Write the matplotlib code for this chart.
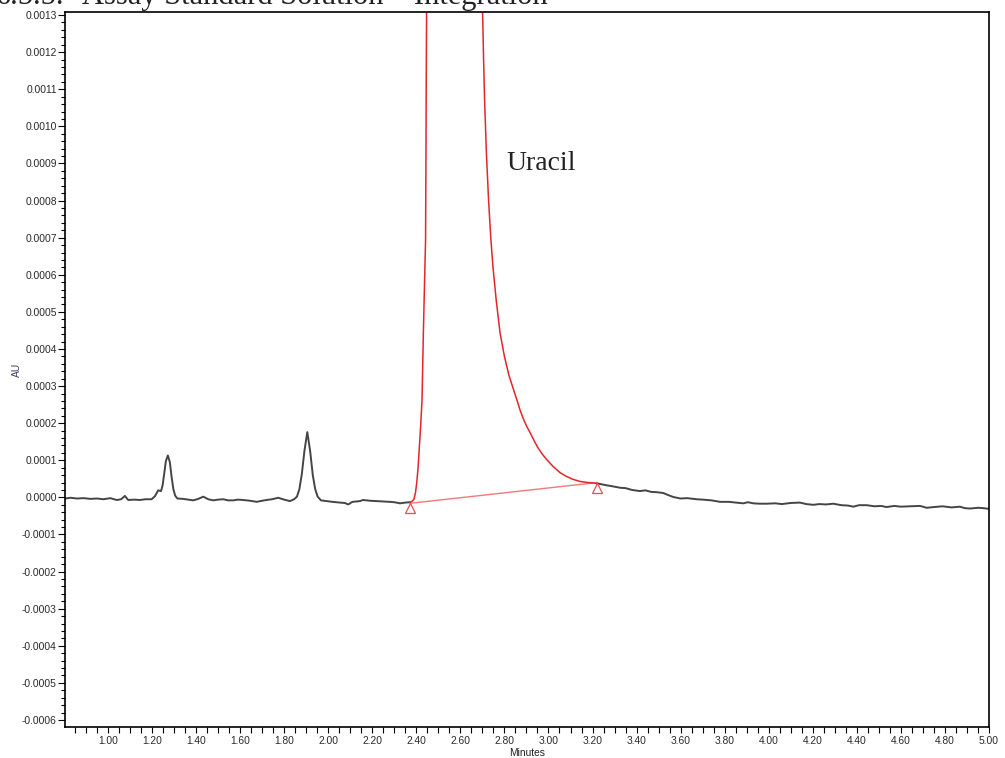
import numpy as np
import matplotlib
matplotlib.use("Agg")
import matplotlib.pyplot as plt
from matplotlib.ticker import MultipleLocator, FuncFormatter

# Trace (time in minutes, absorbance in 1e-4 AU)
pre_t = [0.805, 0.83, 0.86, 0.89, 0.92, 0.95, 0.98, 1.01, 1.04, 1.06, 1.077, 1.092,
         1.12, 1.145, 1.17, 1.198, 1.213, 1.228, 1.241, 1.248, 1.255, 1.263, 1.272,
         1.281, 1.289, 1.297, 1.305, 1.315, 1.34, 1.365, 1.387, 1.41, 1.433, 1.455,
         1.478, 1.50, 1.524, 1.545, 1.569, 1.59, 1.614, 1.645, 1.675, 1.70, 1.72,
         1.745, 1.773, 1.80, 1.826, 1.845, 1.858, 1.869, 1.88, 1.892, 1.905, 1.918,
         1.930, 1.941, 1.952, 1.967, 1.993, 2.02, 2.053, 2.075, 2.091, 2.11, 2.144,
         2.158, 2.19, 2.22, 2.25, 2.28, 2.30, 2.326, 2.35, 2.371]
pre_au = [-0.03, -0.01, -0.03, -0.02, -0.04, -0.03, -0.05, -0.02, -0.07, -0.05, 0.04, -0.07,
          -0.06, -0.07, -0.05, -0.05, 0.03, 0.19, 0.17, 0.32, 0.62, 0.98, 1.13,
          0.95, 0.55, 0.22, 0.05, -0.03, -0.04, -0.06, -0.08, -0.04, 0.02, -0.05,
          -0.08, -0.06, -0.05, -0.08, -0.08, -0.06, -0.07, -0.09, -0.12, -0.09, -0.07,
          -0.05, -0.01, -0.06, -0.10, -0.05, 0.02, 0.22, 0.62, 1.25, 1.76, 1.25,
          0.60, 0.22, 0.02, -0.08, -0.10, -0.12, -0.14, -0.15, -0.19, -0.12, -0.10,
          -0.07, -0.09, -0.10, -0.11, -0.12, -0.13, -0.16, -0.14, -0.13]

post_t = [3.22, 3.26, 3.29, 3.325, 3.35, 3.38, 3.415, 3.44, 3.465, 3.491, 3.52, 3.545,
          3.567, 3.60, 3.63, 3.673, 3.70, 3.74, 3.779, 3.82, 3.85, 3.885, 3.905, 3.93,
          3.96, 3.99, 4.03, 4.06, 4.10, 4.142, 4.17, 4.202, 4.23, 4.26, 4.293, 4.33,
          4.36, 4.384, 4.41, 4.445, 4.48, 4.51, 4.535, 4.57, 4.60, 4.64, 4.687, 4.717,
          4.75, 4.79, 4.83, 4.868, 4.89, 4.914, 4.95, 4.975, 5.00]
post_au = [0.38, 0.33, 0.30, 0.26, 0.25, 0.20, 0.17, 0.19, 0.15, 0.14, 0.12, 0.06,
           0.01, -0.03, -0.02, -0.05, -0.06, -0.08, -0.12, -0.12, -0.14, -0.16, -0.13, -0.16,
           -0.17, -0.17, -0.16, -0.18, -0.15, -0.14, -0.18, -0.20, -0.18, -0.19, -0.17, -0.21,
           -0.22, -0.25, -0.21, -0.21, -0.24, -0.23, -0.26, -0.23, -0.25, -0.24, -0.23, -0.28,
           -0.26, -0.24, -0.27, -0.25, -0.29, -0.30, -0.28, -0.29, -0.31]

# integrated uracil peak (goes far off scale)
peak_t = [2.371, 2.38, 2.389, 2.396, 2.402, 2.408, 2.413, 2.42, 2.426, 2.432, 2.437,
          2.442, 2.444, 2.445, 2.447, 2.50, 2.58, 2.66, 2.697, 2.701, 2.705, 2.71,
          2.718, 2.728, 2.738, 2.748, 2.763, 2.78, 2.80, 2.82, 2.84, 2.856, 2.87,
          2.885, 2.90, 2.916, 2.935, 2.95, 2.97, 2.992, 3.02, 3.052, 3.08, 3.11,
          3.143, 3.18, 3.22]
peak_au = [-0.13, -0.11, -0.05, 0.12, 0.40, 0.80, 1.29, 1.95, 2.64, 4.44, 5.7,
           6.94, 9.5, 11.2, 13.5, 30.0, 45.0, 25.0, 14.5, 13.07, 11.9, 10.7,
           9.3, 8.01, 7.0, 6.21, 5.3, 4.44, 3.8, 3.3, 2.93, 2.64, 2.37,
           2.13, 1.93, 1.75, 1.53, 1.36, 1.18, 1.02, 0.84, 0.67, 0.57, 0.49,
           0.43, 0.40, 0.38]

base_t = [2.371, 3.22]
base_au = [-0.16, 0.40]
mark_au = [-0.28, 0.24]

E4 = 1e-4

fig = plt.figure(figsize=(10.05, 7.58), dpi=100)
ax = fig.add_axes([65 / 1005, 31.3 / 758, 924 / 1005, 715 / 758])

ax.plot(pre_t, np.array(pre_au) * E4, color="#454545", lw=1.4)
ax.plot(post_t, np.array(post_au) * E4, color="#454545", lw=1.4)
ax.plot(base_t, np.array(base_au) * E4, color="#f07a7a", lw=1.0)
ax.plot(peak_t, np.array(peak_au) * E4, color="#e4262c", lw=1.1)
ax.plot(base_t, np.array(mark_au) * E4, ls="none", marker="^", ms=7,
        mfc="white", mec="#ee4a4f", mew=0.9)

ax.text(2.81, 9.0 * E4, "Uracil", family="Liberation Serif", fontsize=20,
        color="#222222", ha="left", va="center")

ax.set_xlim(0.805, 5.0)
ax.set_ylim(-0.000618, 0.001309)

ax.xaxis.set_major_locator(MultipleLocator(0.2))
ax.xaxis.set_minor_locator(MultipleLocator(0.05))
ax.yaxis.set_major_locator(MultipleLocator(0.0001))
ax.yaxis.set_minor_locator(MultipleLocator(0.00002))
ax.xaxis.set_major_formatter(FuncFormatter(lambda v, p: f"{v:.2f}"))
ax.yaxis.set_major_formatter(FuncFormatter(lambda v, p: f"{0.0 if abs(v) < 1e-9 else v:.4f}"))

ax.tick_params(axis="y", which="major", length=5, width=0.8, pad=1,
               labelsize=7.4, labelcolor="#2a2a2a")
ax.tick_params(axis="y", which="minor", length=3, width=0.8)
ax.tick_params(axis="x", which="major", length=4, width=0.8, pad=3,
               labelsize=7.4, labelcolor="#2a2a2a")
ax.tick_params(axis="x", which="minor", length=4, width=0.8)
for lab in ax.get_xticklabels() + ax.get_yticklabels():
    lab.set_family("Liberation Sans")

for s in ax.spines.values():
    s.set_linewidth(1.2)
    s.set_color("black")

ax.set_xlabel("Minutes", family="Liberation Sans", fontsize=7.4, color="#222222", labelpad=1)
fig.text(17 / 1005, 1 - 370 / 758, "AU", family="Liberation Sans", fontsize=7.4,
         color="#3a4060", rotation=90, ha="center", va="center")

fig.text(-0.004, 1 - 4 / 758, "6.5.5.", family="Liberation Serif", fontsize=22,
         color="#222222", ha="left", va="baseline")
fig.text(82 / 1005, 1 - 4 / 758, "Assay Standard Solution – Integration",
         family="Liberation Serif", fontsize=22, color="#222222", ha="left", va="baseline")

fig.savefig("out.png", dpi=100)
